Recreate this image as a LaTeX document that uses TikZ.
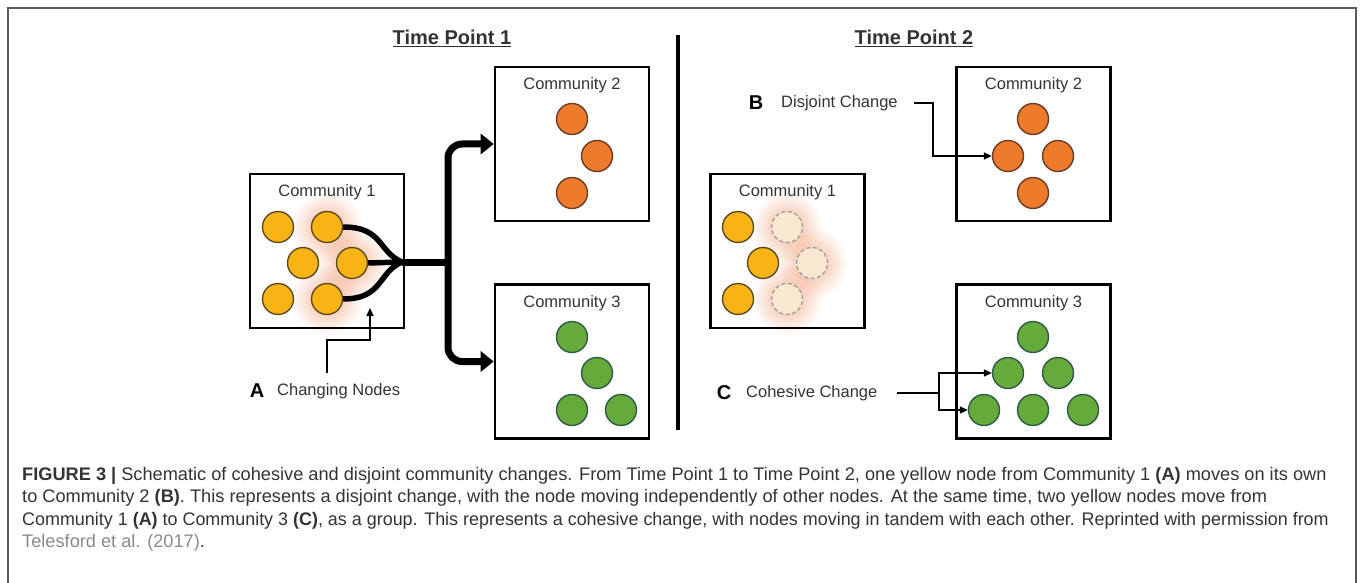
\documentclass[tikz,border=0pt]{standalone}
\usepackage{fontspec}
\setmainfont{Liberation Sans}
\usetikzlibrary{arrows.meta,fadings,calc}
\definecolor{yel}{HTML}{F8B414}
\definecolor{yelb}{HTML}{5C4A1E}
\definecolor{org}{HTML}{EE7A2C}
\definecolor{orgb}{HTML}{6A3A24}
\definecolor{grn}{HTML}{67AA3C}
\definecolor{grnb}{HTML}{2E5A46}
\definecolor{fadefill}{HTML}{F9E7CF}
\definecolor{glow}{HTML}{EE9468}
\definecolor{txt}{HTML}{333333}
\definecolor{capgrey}{HTML}{8A8A8A}
\definecolor{framegrey}{HTML}{5A5A5A}
\tikzfading[name=softglow, inner color=transparent!0, outer color=transparent!100]
\begin{document}
\begin{tikzpicture}[x=1pt,y=-1pt,
  box/.style={draw=black,line width=2.6pt,minimum width=154pt,minimum height=154pt,inner sep=0pt},
  lbl/.style={text=txt,font=\fontsize{16.5}{18}\selectfont,inner sep=0pt},
  head/.style={text=txt,font=\fontsize{20}{22}\selectfont\bfseries,inner sep=0pt},
  letter/.style={text=black,font=\fontsize{20}{22}\selectfont\bfseries,inner sep=0pt},
  dot/.style={circle,line width=1.4pt,minimum size=31pt,inner sep=0pt},
  ydot/.style={dot,draw=yelb,fill=yel},
  odot/.style={dot,draw=orgb,fill=org},
  gdot/.style={dot,draw=grnb,fill=grn},
  fdot/.style={dot,draw=gray!75,fill=fadefill,dash pattern=on 4pt off 2.5pt},
  glowc/.style={fill=glow,fill opacity=0.7,path fading=softglow},
  flow/.style={line width=5.5pt,black},
  bigflow/.style={line width=7pt,black,rounded corners=14pt},
  sarrow/.style={line width=1.6pt,black,-{Triangle[length=8pt,width=7pt]}},
  captext/.style={anchor=base west,inner sep=0pt,text=txt,font=\fontsize{18.2}{20}\selectfont}
]
\useasboundingbox (0,0) rectangle (1360,583);
\draw[framegrey,line width=1.5pt] (8,590) -- (8,8) -- (1356,8) -- (1356,590);

% headings
\node[head] (tp1) at (452,38) {\underline{Time Point 1}};
\node[head] (tp2) at (914,38) {\underline{Time Point 2}};
\draw[line width=3.5pt] (678,35) coordinate (dv1) -- (678,430) coordinate (dv2);

% ---------- Time point 1 ----------
\fill[glowc] (327,227) circle (36pt);
\fill[glowc] (352,263) circle (36pt);
\fill[glowc] (327,299) circle (36pt);
\node[box] (c1) at (327,251) {};
\node[lbl] (l1) at (327,192) {Community 1};
\node[ydot] (y1) at (278,227) {};
\node[ydot] (y2) at (327,227) {};
\node[ydot] (y3) at (303,263) {};
\node[ydot] (y4) at (352,263) {};
\node[ydot] (y5) at (278,299) {};
\node[ydot] (y6) at (327,299) {};

\node[box] (c2) at (572,144) {};
\node[lbl] (l2) at (572,85) {Community 2};
\node[odot] (o1) at (572,119) {};
\node[odot] (o2) at (597,156) {};
\node[odot] (o3) at (572,193) {};

\node[box] (c3) at (572,361.5) {};
\node[lbl] (l3) at (572,303) {Community 3};
\node[gdot] (g1) at (572,337) {};
\node[gdot] (g2) at (597,373) {};
\node[gdot] (g3) at (572,410) {};
\node[gdot] (g4) at (621,410) {};

\coordinate (mg) at (402,262);
\draw[flow] (y2.east) .. controls +(40,0) and +(-24,-10) .. (mg);
\draw[flow] (y6.east) .. controls +(40,0) and +(-24,10) .. (mg);
\draw[flow] (y4.east) -- (mg);
\draw[line width=7pt] (mg) -- (448,262) coordinate (jn);
\draw[bigflow,{Triangle[length=13pt,width=20pt]}-{Triangle[length=13pt,width=20pt]}] (c2.west) -| (jn) |- (c3.west);

\node[letter] (la) at (257,391) {A};
\node[lbl,anchor=west] (lchg) at (277,391) {Changing Nodes};
\coordinate (as) at (327,373);
\coordinate (at) at (370,308);
\draw[sarrow] (as) |- (370,340) -- (at);

% ---------- Time point 2 ----------
\fill[glowc] (787,227) circle (36pt);
\fill[glowc] (812,263) circle (36pt);
\fill[glowc] (787,299) circle (36pt);
\node[box] (d1) at (787.5,251) {};
\node[lbl] (m1) at (787.5,192) {Community 1};
\node[ydot] (p1) at (738,227) {};
\node[fdot] (q1) at (787,227) {};
\node[ydot] (p2) at (763,263) {};
\node[fdot] (q2) at (812,263) {};
\node[ydot] (p3) at (738,299) {};
\node[fdot] (q3) at (787,299) {};

\node[box] (d2) at (1033.5,144) {};
\node[lbl] (m2) at (1033.5,85) {Community 2};
\node[odot] (r1) at (1033,119) {};
\node[odot] (r2) at (1008,156) {};
\node[odot] (r3) at (1058,156) {};
\node[odot] (r4) at (1033,193) {};

\node[box] (d3) at (1033.5,361.5) {};
\node[lbl] (m3) at (1033.5,303) {Community 3};
\node[gdot] (s1) at (1033,337) {};
\node[gdot] (s2) at (1008,373) {};
\node[gdot] (s3) at (1058,373) {};
\node[gdot] (s4) at (984,410) {};
\node[gdot] (s5) at (1033,410) {};
\node[gdot] (s6) at (1083,410) {};

\node[letter] (lb) at (756,103) {B};
\node[lbl,anchor=west] (ldis) at (781,103) {Disjoint Change};
\coordinate (bs) at (914,103);
\draw[sarrow] (bs) -- (933,103) |- (r2.west);

\node[letter] (lc) at (724,393) {C};
\node[lbl,anchor=west] (lcoh) at (746,393) {Cohesive Change};
\coordinate (cs) at (897,393);
\coordinate (cj) at (939,393);
\draw[line width=1.6pt] (cs) -- (cj);
\draw[sarrow] (cj) |- (s2.west);
\draw[sarrow] (cj) |- (s4.west);

% ---------- caption ----------
\node[captext] (cap1) at (22,480) {\textbf{FIGURE 3 |} Schematic of cohesive and disjoint community changes. From Time Point 1 to Time Point 2, one yellow node from Community 1 \textbf{(A)} moves on its own};
\node[captext] (cap2) at (22,502.5) {to Community 2 \textbf{(B)}. This represents a disjoint change, with the node moving independently of other nodes. At the same time, two yellow nodes move from};
\node[captext] (cap3) at (22,525) {\scalebox{0.985}[1]{Community 1 \textbf{(A)} to Community 3 \textbf{(C)}, as a group. This represents a cohesive change, with nodes moving in tandem with each other. Reprinted with permission from}};
\node[captext] (cap4) at (22,547.5) {\textcolor{capgrey}{Telesford et al. (2017)}.};
\end{tikzpicture}
\end{document}
